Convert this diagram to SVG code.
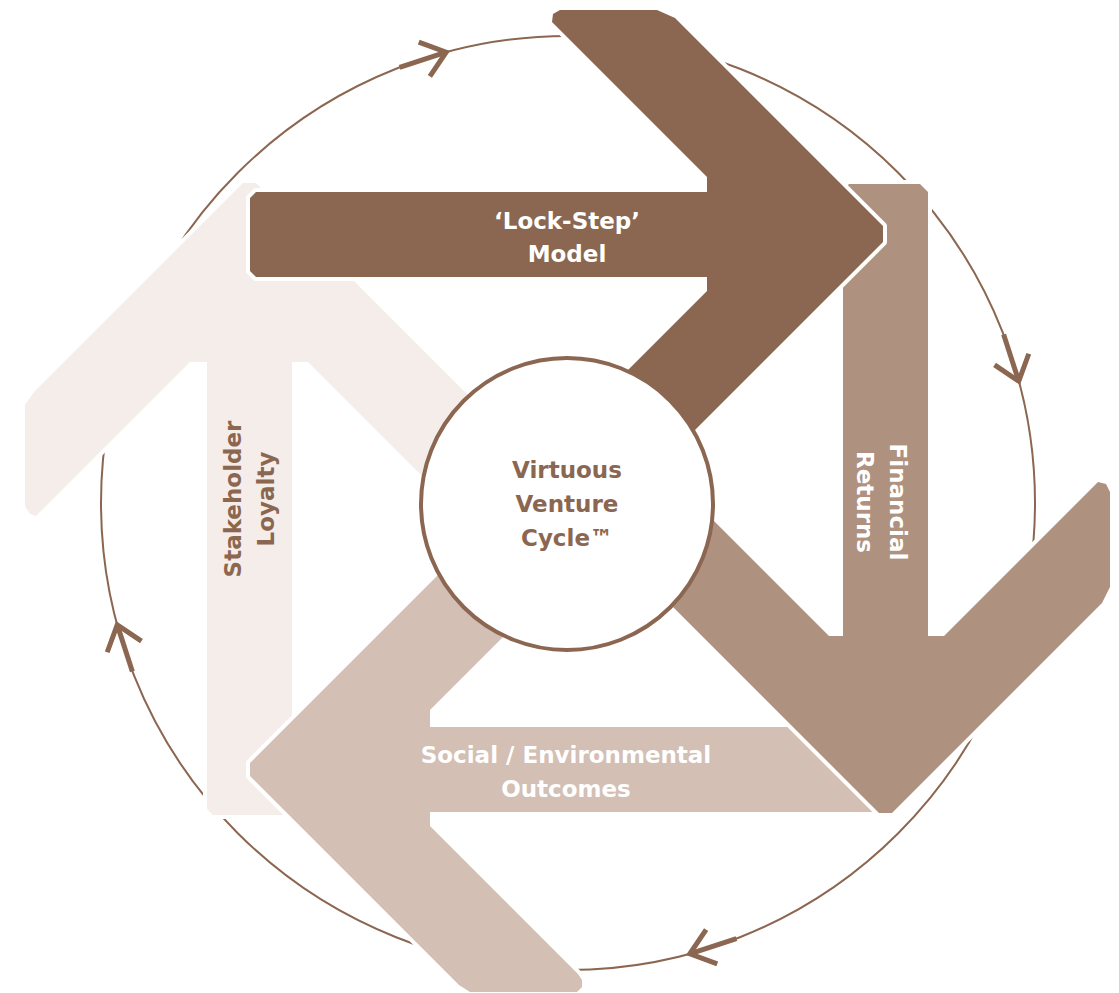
<svg xmlns="http://www.w3.org/2000/svg" width="1119" height="993" viewBox="0 0 1119 993">
  <style>
    .arrow { stroke: #ffffff; stroke-width: 8; stroke-linejoin: round; paint-order: stroke; }
    .lbl { font-family: "DejaVu Sans", Verdana, sans-serif; font-weight: 700; font-size: 23px; text-anchor: middle; }
    .w { fill: #ffffff; }
    .b { fill: #8B6650; }
    .tick { fill: none; stroke: #8B6650; stroke-width: 5; stroke-linejoin: miter; }
  </style>
  <defs>
    <!-- small arrow sitting on the outer ring, tip at the origin, pointing +x -->
    <g id="tick">
      <path class="tick" d="M-50,0 L-5,0"/>
      <path class="tick" d="M-24,-18 L-1,0 L-24,18"/>
    </g>
  </defs>

  <rect width="1119" height="993" fill="#ffffff"/>

  <!-- outer cycle ring with direction ticks -->
  <g id="connectors">
    <circle cx="568" cy="503" r="467" fill="none" stroke="#8B6650" stroke-width="2"/>
    <use href="#tick" transform="translate(568,503) rotate(-105) translate(467,0) rotate(87)"/>
    <use href="#tick" transform="translate(568,503) rotate(-15) translate(467,0) rotate(87)"/>
    <use href="#tick" transform="translate(568,503) rotate(75) translate(467,0) rotate(87)"/>
    <use href="#tick" transform="translate(568,503) rotate(165) translate(467,0) rotate(87)"/>
  </g>

  <!-- Stakeholder Loyalty (points up) -->
  <g id="stakeholder-loyalty">
    <polygon class="arrow" fill="#F5EDEA" points="292,362 308,362 470,524 540,467 256,183 243,183 34,392 25,405 25,506 30,514 36,516 190,362 207,362 207,809 213,815 286,815 292,809"/>
    <text class="lbl b" transform="translate(241,499) rotate(-90)"><tspan x="0" y="0">Stakeholder</tspan><tspan x="0" y="33">Loyalty</tspan></text>
  </g>

  <!-- Social / Environmental Outcomes (points left) -->
  <g id="social-outcomes">
    <polygon class="arrow" fill="#D3BFB4" points="802,727 887,812 430,812 430,826 578,974 582,980 582,987 577,992 470,992 459,985 250,776 250,763 520,493 600,540 430,710 430,727"/>
    <text class="lbl w"><tspan x="566" y="763">Social / Environmental</tspan><tspan x="566" y="797">Outcomes</tspan></text>
  </g>

  <!-- Financial Returns (points down) -->
  <g id="financial-returns">
    <polygon class="arrow" fill="#AF917F" points="843,190 849,184 920,184 928,192 928,636 944,636 1098,482 1106,484 1110,492 1110,587 1102,603 892,813 879,813 600,534 650,457 829,636 843,636"/>
    <text class="lbl w" transform="translate(890,502) rotate(90)"><tspan x="0" y="0">Financial</tspan><tspan x="0" y="33">Returns</tspan></text>
  </g>

  <!-- 'Lock-Step' Model (points right) -->
  <g id="lock-step-model">
    <polygon class="arrow" fill="#8B6650" points="256,192 707,192 707,177 552,22 553,14 560,10 657,10 675,18 883,226 883,242 620,505 560,438 707,291 707,277 256,277 250,271 250,198"/>
    <text class="lbl w"><tspan x="567" y="229">‘Lock-Step’</tspan><tspan x="567" y="262">Model</tspan></text>
  </g>

  <!-- hub -->
  <g id="hub">
    <circle cx="567" cy="504" r="146" fill="#ffffff" stroke="#8B6650" stroke-width="4"/>
    <text class="lbl b"><tspan x="567" y="478">Virtuous</tspan><tspan x="567" y="512">Venture</tspan><tspan x="567" y="546">Cycle™</tspan></text>
  </g>
</svg>
